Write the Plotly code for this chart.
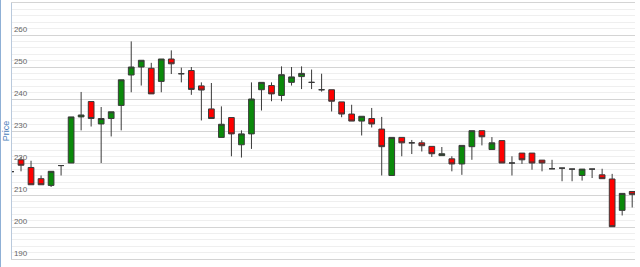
import plotly.graph_objects as go

days = list(range(63))
open_ = [217.3, 221.0, 218.6, 215.1, 213.0, 219.2, 220.0, 234.4, 239.2, 232.2,
         233.9, 238.0, 247.5, 250.0, 249.6, 245.5, 252.5, 247.9, 248.9, 244.1,
         236.9, 228.0, 234.2, 225.7, 229.1, 242.9, 244.2, 241.1, 245.2, 247.0,
         245.2, 242.9, 242.9, 239.1, 235.3, 233.1, 233.9, 230.6, 216.1, 228.0,
         226.3, 226.3, 225.2, 222.3, 221.3, 219.7, 225.1, 230.1, 224.2, 227.0,
         220.0, 223.1, 223.1, 220.9, 218.2, 218.4, 218.1, 216.1, 218.1, 216.3,
         215.0, 205.2, 211.1]
high = [217.6, 221.9, 220.7, 216.1, 217.4, 219.2, 234.4, 242.2, 239.2, 237.5,
        236.0, 246.0, 258.0, 252.1, 251.3, 252.5, 255.2, 249.8, 250.0, 245.2,
        245.0, 237.7, 234.2, 230.2, 245.2, 245.2, 245.2, 250.2, 250.0, 250.2,
        249.2, 247.9, 242.9, 239.1, 238.2, 234.6, 237.2, 234.4, 228.0, 228.0,
        227.2, 227.1, 225.2, 225.0, 222.1, 225.5, 230.1, 230.1, 228.1, 227.0,
        222.1, 223.1, 223.1, 220.9, 221.0, 218.4, 218.1, 218.1, 218.1, 218.2,
        216.6, 210.5, 211.1]
low = [217.0, 217.4, 213.2, 213.2, 212.5, 216.1, 220.0, 230.2, 231.4, 220.0,
       228.3, 230.2, 242.1, 244.2, 241.6, 242.1, 247.8, 245.2, 241.3, 233.3,
       233.9, 228.0, 222.1, 221.7, 224.4, 236.4, 239.3, 239.3, 244.2, 243.1,
       243.1, 242.3, 236.1, 234.3, 233.1, 228.6, 231.1, 216.1, 216.1, 222.1,
       222.8, 223.6, 221.9, 222.3, 217.4, 216.3, 221.0, 225.5, 224.2, 220.0,
       216.1, 219.7, 217.9, 217.4, 218.2, 214.3, 214.3, 214.5, 215.3, 215.1,
       200.1, 203.6, 206.1]
close = [217.3, 219.3, 213.2, 213.2, 217.4, 219.2, 234.4, 235.0, 233.9, 233.9,
         236.0, 246.0, 250.0, 252.1, 241.6, 252.5, 251.0, 247.9, 243.0, 242.8,
         233.9, 232.1, 229.1, 229.1, 240.0, 245.2, 241.6, 247.6, 246.9, 248.0,
         245.2, 242.9, 239.3, 235.3, 233.1, 234.6, 232.2, 225.1, 228.0, 226.3,
         226.3, 225.4, 222.9, 222.9, 219.7, 225.5, 230.1, 228.2, 226.3, 220.0,
         220.0, 221.0, 220.0, 220.0, 218.2, 218.4, 218.1, 218.1, 218.1, 215.1,
         200.1, 210.5, 210.2]
y_ticks = [190, 200, 210, 220, 230, 240, 250, 260]

fig = go.Figure(go.Candlestick(
    x=days, open=open_, high=high, low=low, close=close,
    increasing=dict(fillcolor="#0a8a0a", line=dict(color="#3a3a3a", width=1)),
    decreasing=dict(fillcolor="#ff0000", line=dict(color="#3a3a3a", width=1)),
    whiskerwidth=0,
    showlegend=False,
))

fig.update_layout(
    width=640, height=267,
    margin=dict(l=12, r=5, t=3, b=8, autoexpand=False),
    paper_bgcolor="white", plot_bgcolor="white",
    boxgap=0.43, boxgroupgap=0,
    font=dict(family="Liberation Sans, Arial, sans-serif", size=8, color="#666666"),
    xaxis=dict(range=[0.1, 62.28], showticklabels=False, showgrid=False,
               zeroline=False, rangeslider=dict(visible=False), ticks="",
               showline=True, mirror=True, linecolor="#d4d4d4", linewidth=1),
    yaxis=dict(range=[190, 270], tickvals=y_ticks, ticklabelposition="inside top",
               tickfont=dict(size=8, color="#666666"), ticks="",
               showgrid=True, gridcolor="#d4d4d4", gridwidth=1, zeroline=False,
               minor=dict(dtick=2, showgrid=True, gridcolor="#efefef", gridwidth=1),
               showline=True, linecolor="#b9c9dc", linewidth=1,
               title=dict(text="Price", font=dict(size=9, color="#4a7ebb"), standoff=2),
               automargin=False),
    shapes=[dict(type="line", xref="paper", yref="paper",
                 x0=-11.5/623, x1=-11.5/623, y0=-8/256, y1=1+3/256,
                 line=dict(color="#8fb0d6", width=1))],
)

fig.write_html("out.html")
